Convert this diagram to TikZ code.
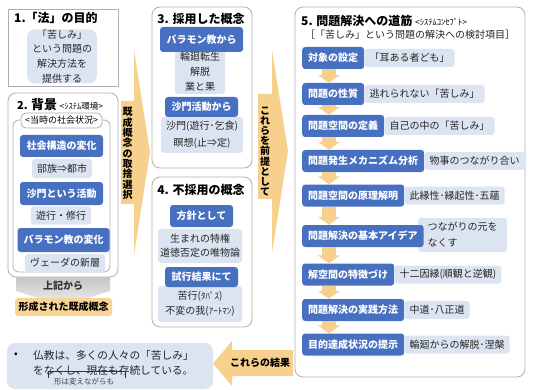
\documentclass[tikz,border=0pt]{standalone}
\usepackage{fontspec}
\setmainfont{Noto Sans CJK JP}
\usetikzlibrary{arrows.meta}

\definecolor{boxblue}{RGB}{72,112,192}
\definecolor{boxlight}{RGB}{220,228,242}
\definecolor{arrorange}{RGB}{246,208,140}
\definecolor{formedorange}{RGB}{248,212,150}
\definecolor{panelgray}{RGB}{175,175,175}

\begin{document}
\begin{tikzpicture}[x=1pt, y=-1pt,
    panel/.style={draw=panelgray, line width=0.8pt, rounded corners=8pt},
    paneltitle/.style={inner sep=0pt, font=\bfseries\fontsize{12}{14}\selectfont},
    bluebox/.style={fill=boxblue, text=white, rounded corners=3pt, inner xsep=6pt,
        inner ysep=0pt, minimum height=22pt, font=\bfseries\fontsize{10}{12}\selectfont},
    lightbox/.style={fill=boxlight, text=black!85, rounded corners=3pt, inner xsep=5pt,
        inner ysep=0pt, minimum height=18pt, font=\fontsize{10}{12}\selectfont},
    stepline/.style={line width=14pt, draw=arrorange, -{Triangle[width=22pt, length=8pt]}},
    vtext/.style={align=center, inner sep=0pt, font=\bfseries\fontsize{10}{10.3}\selectfont}]

    % 0. Nền và khung hình
    \fill[white] (0,0) rectangle (540,390);
    \useasboundingbox (0,0) rectangle (540,390);

    % 1. 「法」の目的
    \draw[draw=panelgray, line width=0.8pt] (8,9) rectangle (118,86);
    \node[paneltitle, anchor=west] (t1) at (14,18) {1.「法」の目的};
    \node[fill=boxlight, text=black!85, rounded corners=8pt, minimum width=70pt, minimum height=54pt,
        align=center, inner sep=0pt, font=\fontsize{10}{14.7}\selectfont] (purpose) at (62,56.5)
        {「苦しみ」\\という問題の\\解決方法を\\提供する};

    % 2. 背景
    \draw[panel] (8,93) rectangle (118,277);
    \node[inner sep=0pt, anchor=west] (t2) at (17,105)
        {\bfseries\fontsize{11}{13}\selectfont 2. {\fontsize{13}{15}\selectfont 背景}
         {\mdseries\fontsize{8.5}{10}\selectfont <ｼｽﾃﾑ環境>}};
    \draw[panel, rounded corners=6pt] (13,120) rectangle (110,272);
    \node[draw=panelgray, line width=0.8pt, fill=white, rounded corners=5pt, minimum width=81pt,
        minimum height=15pt, inner sep=0pt, font=\fontsize{9}{11}\selectfont] (era) at (61.5,120.5)
        {<当時の社会状況>};
    \node[bluebox, minimum width=83pt] (soc) at (61.5,146) {社会構造の変化};
    \node[lightbox, minimum height=19pt] (socd) at (62,168.5) {部族⇒都市};
    \node[bluebox, minimum width=83pt, minimum height=23pt] (sha) at (61.5,193.5) {沙門という活動};
    \node[lightbox] (shad) at (61,215.5) {遊行・修行};
    \node[bluebox, minimum width=87pt, minimum height=24pt] (bra) at (63.5,240) {バラモン教の変化};
    \node[lightbox] (brad) at (65,263) {ヴェーダの新層};

    % Mũi tên xám và khái niệm hình thành
    \shade[top color=gray!45, bottom color=gray!12]
        (16,277) -- (110,277) -- (110,291) -- (63,306) -- (16,291) -- cycle;
    \node[inner sep=0pt, text=black!80, font=\bfseries\fontsize{10}{12}\selectfont] (fromabove)
        at (63,286) {上記から};
    \node[fill=formedorange, rounded corners=3pt, minimum width=97pt, minimum height=18pt,
        inner sep=0pt, font=\bfseries\fontsize{10}{12}\selectfont] (formed) at (63.5,307)
        {形成された既成概念};

    % 3. Mũi tên 既成概念の取捨選択
    \fill[arrorange] (121,101) -- (134,101) -- (134,50) -- (150,152) -- (134,255)
        -- (134,204) -- (121,204) -- cycle;
    \node[vtext] (pick) at (127.5,153.5) {既\\成\\概\\念\\の\\取\\捨\\選\\択};

    % 4. 採用した概念
    \draw[panel] (152,7) rectangle (252,168);
    \node[paneltitle] (t3) at (201,19) {3. 採用した概念};
    \node[lightbox, minimum width=50pt, minimum height=44pt, align=center,
        font=\fontsize{10}{15}\selectfont] (bradd) at (200,72) {輪廻転生\\解脱\\業と果};
    \node[bluebox, minimum width=83pt, minimum height=25pt] (frombra) at (201.5,39.5) {バラモン教から};
    \node[lightbox, minimum width=80pt, minimum height=36pt, align=center,
        font=\fontsize{10}{16.5}\selectfont] (shadd) at (202,135) {沙門(遊行･乞食)\\瞑想(止⇒定)};
    \node[bluebox, minimum width=73pt, minimum height=20pt] (fromsha) at (201.5,107) {沙門活動から};

    % 5. 不採用の概念
    \draw[panel] (152,177) rectangle (252,327);
    \node[paneltitle] (t4) at (201,190) {4. 不採用の概念};
    \node[lightbox, minimum width=84pt, minimum height=34pt, inner xsep=2pt, align=center,
        font=\fontsize{10}{14}\selectfont] (policyd) at (200,246) {生まれの特権\\道徳否定の唯物論};
    \node[bluebox, minimum width=63pt] (policy) at (201.5,216) {方針として};
    \node[lightbox, minimum width=84pt, minimum height=36pt, align=center,
        font=\fontsize{10}{15}\selectfont] (trialsd) at (200,304)
        {苦行({\fontsize{9}{10}\selectfont ﾀﾊﾟｽ})\\不変の我({\fontsize{9}{10}\selectfont ｱｰﾄﾏﾝ})};
    \node[bluebox, minimum width=73pt, minimum height=20pt] (trials) at (201.5,277) {試行結果にて};

    % 6. Mũi tên これらを前提として
    \fill[arrorange] (258,94) -- (272,94) -- (272,50) -- (288,151) -- (272,253)
        -- (272,199) -- (258,199) -- cycle;
    \node[vtext, font=\bfseries\fontsize{10}{10.2}\selectfont] (premise) at (265,151.5)
        {こ\\れ\\ら\\を\\前\\提\\と\\し\\て};

    % 7. 問題解決への道筋
    \draw[panel] (295,7) rectangle (525,377);
    \node[paneltitle, anchor=west] (t5) at (301,21)
        {5. 問題解決への道筋 {\mdseries\fontsize{8.5}{10}\selectfont <ｼｽﾃﾑｺﾝｾﾌﾟﾄ>}};
    \node[inner sep=0pt, text=black!85, font=\fontsize{10}{12}\selectfont] (t5sub) at (410,35)
        {［「苦しみ」という問題の解決への検討項目］};

    % Các bước
    \node[lightbox, anchor=west, text width=70pt, align=left, minimum height=34pt,
        inner xsep=9.5pt, font=\fontsize{10}{16}\selectfont] (d6) at (418,235) {つながりの元を\\なくす};
    \node[bluebox, anchor=west] (s1) at (302,58) {対象の設定};
    \node[lightbox, anchor=west] (d1) at (s1.east) {「耳ある者ども」};
    \node[bluebox, anchor=west] (s2) at (302,94) {問題の性質};
    \node[lightbox, anchor=west] (d2) at (s2.east) {逃れられない「苦しみ」};
    \node[bluebox, anchor=west] (s3) at (302,126) {問題空間の定義};
    \node[lightbox, anchor=west] (d3) at (s3.east) {自己の中の「苦しみ」};
    \node[bluebox, anchor=west] (s4) at (302,161) {問題発生メカニズム分析};
    \node[lightbox, anchor=west] (d4) at (s4.east) {物事のつながり合い};
    \node[bluebox, anchor=west] (s5) at (302,195.5) {問題空間の原理解明};
    \node[lightbox, anchor=west] (d5) at (s5.east) {此縁性･縁起性･五蘊};
    \node[bluebox, anchor=west] (s6) at (302,236) {問題解決の基本アイデア};
    \node[bluebox, anchor=west] (s7) at (302,274.5) {解空間の特徴づけ};
    \node[lightbox, anchor=west] (d7) at (s7.east) {十二因縁(順観と逆観)};
    \node[bluebox, anchor=west] (s8) at (302,310) {問題解決の実践方法};
    \node[lightbox, anchor=west] (d8) at (s8.east) {中道･八正道};
    \node[bluebox, anchor=west] (s9) at (302,344.5) {目的達成状況の提示};
    \node[lightbox, anchor=west] (d9) at (s9.east) {輪廻からの解脱･涅槃};

    % Mũi tên giữa các bước
    \draw[stepline] ([xshift=27pt]s1.south west) -- ([xshift=27pt]s2.north west);
    \draw[stepline] ([xshift=27pt]s2.south west) -- ([xshift=27pt]s3.north west);
    \draw[stepline] ([xshift=27pt]s3.south west) -- ([xshift=27pt]s4.north west);
    \draw[stepline] ([xshift=27pt]s4.south west) -- ([xshift=27pt]s5.north west);
    \draw[stepline] ([xshift=27pt]s5.south west) -- ([xshift=27pt]s6.north west);
    \draw[stepline] ([xshift=27pt]s6.south west) -- ([xshift=27pt]s7.north west);
    \draw[stepline] ([xshift=27pt]s7.south west) -- ([xshift=27pt]s8.north west);
    \draw[stepline] ([xshift=27pt]s8.south west) -- ([xshift=27pt]s9.north west);

    % 8. Mũi tên これらの結果
    \fill[arrorange] (293,350) -- (232,350) -- (232,341) -- (213,363.5) -- (232,386)
        -- (232,376) -- (293,376) -- cycle;
    \node[inner sep=0pt, font=\bfseries\fontsize{10}{12}\selectfont] (result) at (260,363) {これらの結果};

    % 9. Kết luận
    \fill[boxlight, rounded corners=8pt] (7,343) rectangle (213,389);
    \node[inner sep=0pt, font=\fontsize{10.7}{15}\selectfont] (dot) at (16,355) {•};
    \node[anchor=west, align=left, inner sep=0pt, text=black!85, font=\fontsize{10.7}{15}\selectfont]
        (concl) at (33,362.5) {仏教は、多くの人々の「苦しみ」\\をなくし、現在も存続している。};
    \draw[line width=0.8pt, black!80] (48,378) -- (48,371.5) -- (125,371.5) -- (125,378);
    \node[inner sep=0pt, text=black!75, font=\fontsize{7.5}{9}\selectfont] (note) at (84,382)
        {形は変えながらも};
\end{tikzpicture}
\end{document}
